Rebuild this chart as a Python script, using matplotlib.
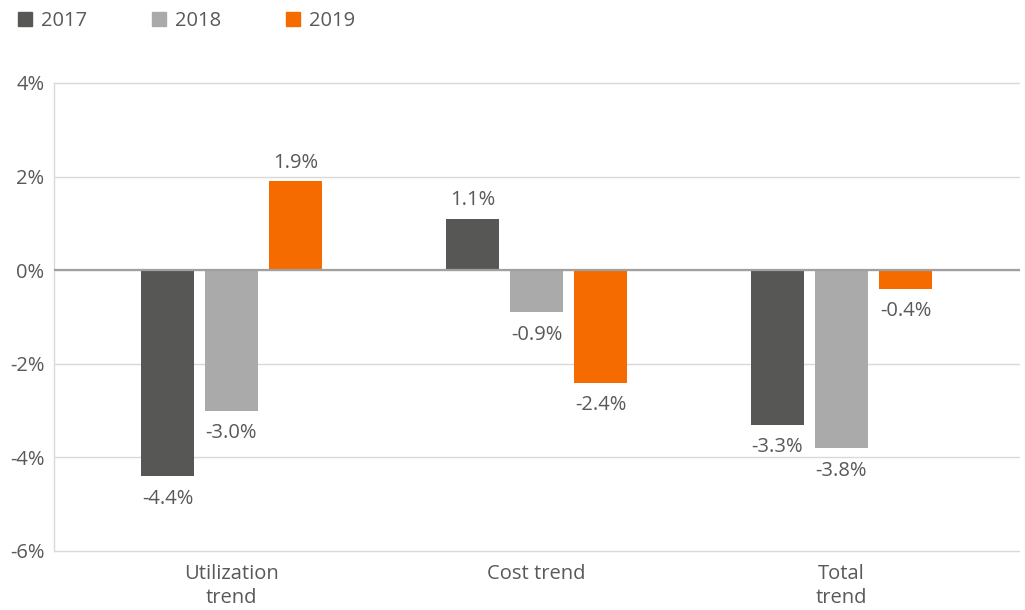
import matplotlib
matplotlib.use("Agg")
import matplotlib.pyplot as plt
from matplotlib.patches import Patch
import numpy as np

categories = ["Utilization\ntrend", "Cost trend", "Total\ntrend"]
years = ["2017", "2018", "2019"]
values_2017 = [-4.4, 1.1, -3.3]
values_2018 = [-3.0, -0.9, -3.8]
values_2019 = [1.9, -2.4, -0.4]
colors = ["#575756", "#aaaaaa", "#f56b00"]
yticks = [-6, -4, -2, 0, 2, 4]

plt.rcParams['font.family'] = ['Open Sans', 'DejaVu Sans']
text_color = "#595959"
fs = 14.5

W, H = 1025, 610
fig = plt.figure(figsize=(W/100, H/100), dpi=100)
ax = fig.add_axes([54/W, (H-553)/H, (1020-54)/W, (553-81)/H])

x = np.arange(len(categories))
bw = 53/305
step = 64/305
series = [values_2017, values_2018, values_2019]
for i, (vals, col, yr) in enumerate(zip(series, colors, years)):
    pos = x + (i-1)*step
    ax.bar(pos, vals, width=bw, color=col, label=yr, zorder=3)
    for p, v in zip(pos, vals):
        if v >= 0:
            ax.annotate(f"{v:.1f}%", (p, v), xytext=(0, 6), textcoords="offset points",
                        ha="center", va="bottom", fontsize=fs, color=text_color)
        else:
            ax.annotate(f"{v:.1f}%", (p, v), xytext=(0, -9), textcoords="offset points",
                        ha="center", va="top", fontsize=fs, color=text_color)

dy = 2 * 10 / 468
ax.set_xlim((54-231.5)/305, (1020-231.5)/305)
ax.set_ylim(-6 - dy, 4 + dy)
ax.set_yticks(yticks)
ax.set_yticklabels([f"{t}%" for t in yticks])
ax.set_xticks(x)
ax.set_xticklabels(categories, linespacing=1.25)
ax.tick_params(axis='both', length=0, labelsize=fs, labelcolor=text_color)
ax.tick_params(axis='y', pad=7)
ax.tick_params(axis='x', pad=8)
ax.grid(axis='y', color="#d9d9d9", linewidth=1, zorder=0)
ax.axhline(0, color="#a0a0a0", linewidth=1.6, zorder=4)
for s in ["top", "right", "bottom", "left"]:
    ax.spines[s].set_visible(False)
ax.plot([ax.get_xlim()[0]] * 2, [-6, 4], color="#d9d9d9", linewidth=1, zorder=1, clip_on=False)

handles = [Patch(color=c, label=y) for c, y in zip(colors, years)]
fig.legend(handles=handles, loc="upper left", bbox_to_anchor=(0.0, 1.012), ncol=3,
           frameon=False, fontsize=fs, handlelength=0.7, handleheight=0.7,
           handletextpad=0.45, columnspacing=3.2, labelcolor=text_color)

fig.savefig("out.png", dpi=100)
